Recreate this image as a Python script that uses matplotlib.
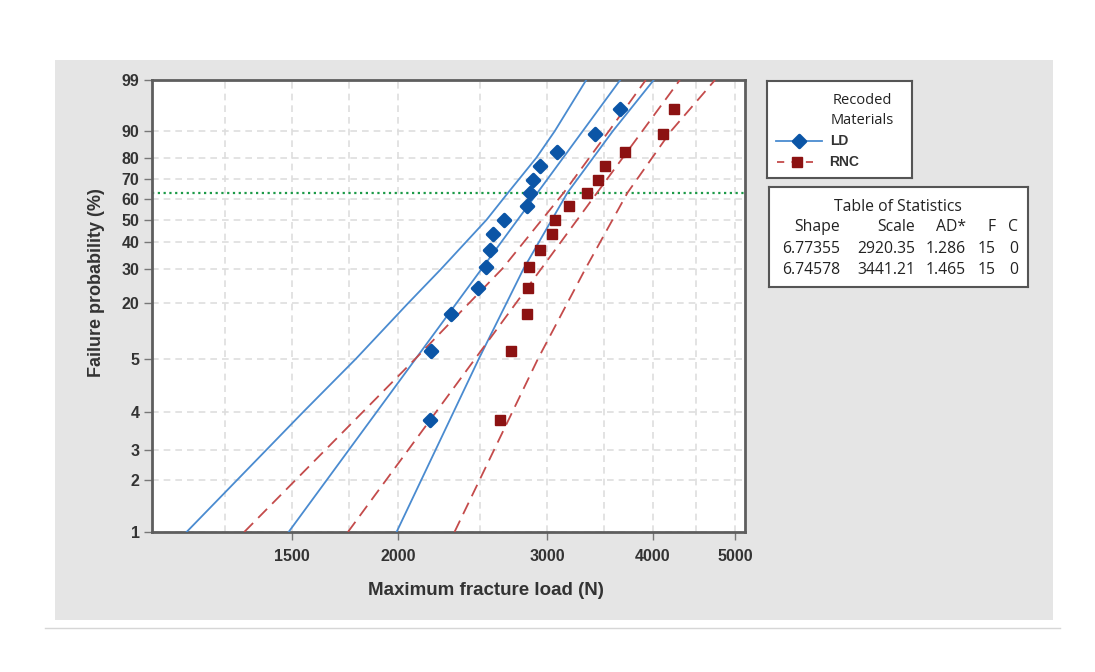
import numpy as np
import matplotlib
matplotlib.use('Agg')
import matplotlib.pyplot as plt
from matplotlib.patches import Rectangle
from matplotlib.lines import Line2D
from matplotlib.markers import MarkerStyle
from matplotlib.ticker import NullLocator

# ---- data ----
# median-rank plotting positions (%), 15 specimens per group
prob = [4.5, 11.0, 17.5, 24.0, 30.5, 37.0, 43.5, 50.0, 56.5, 63.0, 69.5, 76.0, 82.5, 89.0, 95.5]
ld_load = [2181, 2189, 2307, 2489, 2538, 2568, 2589, 2668, 2844, 2862, 2888, 2943, 3080, 3419, 3660]
rnc_load = [2637, 2717, 2844, 2852, 2856, 2943, 3044, 3063, 3184, 3342, 3444, 3513, 3705, 4115, 4241]

# fitted Weibull lines
fit_prob = [1, 99]
ld_fit = [1485, 3660]
rnc_fit = [1745, 4305]

# confidence bands
ld_lo_prob = [1, 5, 10, 20, 30, 50, 63.2, 80, 90, 99]
ld_lower = [1125, 1546, 1784, 2055, 2250, 2545, 2698, 2915, 3063, 3337]
band_prob = [1, 10, 30, 63.2, 90, 99]
ld_upper = [1992, 2492, 2814, 3171, 3587, 4010]
rnc_lower = [1316, 2097, 2656, 3139, 3549, 3924]
rnc_upper = [2332, 2927, 3330, 3734, 4202, 4737]

ref_prob = 63.2

x_ticks = [1500, 2000, 3000, 4000, 5000]
x_grid = [1250, 1500, 1750, 2000, 2500, 3000, 3500, 4000, 4500, 5000]
y_ticks = [99, 90, 80, 70, 60, 50, 40, 30, 20, 10, 5, 3, 2, 1]
y_ticklabels = ['99', '90', '80', '70', '60', '50', '40', '30', '20', '5', '4', '3', '2', '1']

shape = ['6.77355', '6.74578']
scale = ['2920.35', '3441.21']
ad = ['1.286', '1.465']
n_fail = ['15', '15']
n_cens = ['0', '0']

BLUE_M = '#0b55a6'
BLUE_L = '#4a8bd0'
RED_M = '#8c1212'
RED_L = '#c44b4b'
TXT = '#333333'


def weib_fwd(p):
    p = np.clip(np.asarray(p, dtype=float), 1e-6, 100 - 1e-6)
    return np.log(-np.log(1 - p / 100.0))


def weib_inv(y):
    return 100.0 * (1 - np.exp(-np.exp(np.asarray(y, dtype=float))))


W, H = 1095, 672
fig = plt.figure(figsize=(W / 100, H / 100), dpi=100)
fig.patch.set_facecolor('white')

# gray panel behind everything
fig.patches.append(Rectangle((55 / W, 1 - 620 / H), 998 / W, 560 / H,
                             transform=fig.transFigure, facecolor='#e5e5e5',
                             edgecolor='none', zorder=-10))
fig.lines.append(Line2D([45 / W, 1060 / W], [1 - 628 / H, 1 - 628 / H],
                        transform=fig.transFigure, color='#d6d6d6', lw=1, zorder=-10))

ax = fig.add_axes([152 / W, 1 - 532 / H, 593 / W, 452 / H])
ax.set_facecolor('white')
ax.set_xscale('log')
ax.set_yscale('function', functions=(weib_fwd, weib_inv))
ax.set_xlim(1024, 5140)
ax.set_ylim(1, 99)

# grid
for v in x_grid:
    ax.axvline(v, color='#dedede', lw=1.2, ls=(0, (4, 3)), zorder=1)
for p in y_ticks:
    ax.axhline(p, color='#dedede', lw=1.2, ls=(0, (4, 3)), zorder=1)

ax.axhline(ref_prob, color='#1c9a48', lw=1.6, ls=(0, (1, 1.6)), zorder=2)

# bands and fits
ax.plot(ld_lower, ld_lo_prob, color=BLUE_L, lw=1.3, zorder=3)
ax.plot(ld_fit, fit_prob, color=BLUE_L, lw=1.3, zorder=3)
ax.plot(ld_upper, band_prob, color=BLUE_L, lw=1.3, zorder=3)
for xs, ps in [(rnc_lower, band_prob), (rnc_fit, fit_prob), (rnc_upper, band_prob)]:
    ax.plot(xs, ps, color=RED_L, lw=1.3, dashes=(7, 4), zorder=3)

diamond = MarkerStyle('D', joinstyle='round')
ax.plot(ld_load, prob, ls='none', marker=diamond, ms=6.2, color=BLUE_M,
        mec=BLUE_M, mew=2.5, mfc=BLUE_M, zorder=5)
ax.plot(rnc_load, prob, ls='none', marker='s', ms=7.5, color=RED_M, zorder=5)

ax.set_xticks(x_ticks)
ax.set_xticklabels([str(v) for v in x_ticks])
ax.xaxis.set_minor_locator(NullLocator())
ax.set_yticks(y_ticks)
ax.set_yticklabels(y_ticklabels)
ax.yaxis.set_minor_locator(NullLocator())

for lab in ax.get_xticklabels() + ax.get_yticklabels():
    lab.set_fontfamily('Liberation Sans')
    lab.set_fontweight('bold')
    lab.set_fontsize(11.5)
    lab.set_color(TXT)
ax.tick_params(axis='both', length=6, width=1, color='#777777')
ax.tick_params(axis='y', pad=3)
ax.tick_params(axis='x', pad=6)

for s in ax.spines.values():
    s.set_color('#5e5e5e')
    s.set_linewidth(2)

ax.set_xlabel('Maximum fracture load (N)', fontsize=13.5, fontweight='bold',
              family='Liberation Sans', color=TXT)
ax.xaxis.set_label_coords(0.563, -0.11)
ax.set_ylabel('Failure probability (%)', fontsize=13, fontweight='bold',
              family='Liberation Sans', color=TXT)
ax.yaxis.set_label_coords(-0.080, 0.551)

# legend box
lg = fig.add_axes([767 / W, 1 - 178 / H, 145 / W, 97 / H])
lg.set_xlim(767, 912)
lg.set_ylim(178, 81)
lg.set_xticks([])
lg.set_yticks([])
for s in lg.spines.values():
    s.set_color('#555555')
    s.set_linewidth(1.5)
lg.text(862, 100, 'Recoded', ha='center', va='center', fontsize=10.5,
        family='Open Sans', color='#222222')
lg.text(862, 121, 'Materials', ha='center', va='center', fontsize=10.5,
        family='Open Sans', color='#222222')
lg.plot([776, 822], [141, 141], color=BLUE_L, lw=1.3)
lg.plot([799], [141], marker=diamond, ms=6, color=BLUE_M, mew=2.5)
lg.text(830, 141, 'LD', ha='left', va='center', fontsize=10,
        fontweight='bold', family='Liberation Sans', color=TXT)
lg.plot([777, 813], [162, 162], color=RED_L, lw=1.3, dashes=(4, 4))
lg.plot([797], [162], marker='s', ms=7, color=RED_M)
lg.text(829, 162, 'RNC', ha='left', va='center', fontsize=10,
        fontweight='bold', family='Liberation Sans', color=TXT)

# table of statistics
tb = fig.add_axes([769 / W, 1 - 287 / H, 259 / W, 100 / H])
tb.set_xlim(769, 1028)
tb.set_ylim(287, 187)
tb.set_xticks([])
tb.set_yticks([])
for s in tb.spines.values():
    s.set_color('#555555')
    s.set_linewidth(1.5)
tkw = dict(fontsize=11.3, family='Open Sans', color='#222222', va='center')
tb.text(898, 207, 'Table of Statistics', ha='center', **tkw)
col_x = [840, 915, 966, 996, 1018]
for cx, h in zip(col_x, ['Shape', 'Scale', 'AD*', 'F', 'C']):
    tb.text(cx, 227, h, ha='right', **tkw)
for i, row_y in enumerate([249, 270]):
    for cx, val in zip(col_x, [shape[i], scale[i], ad[i], n_fail[i], n_cens[i]]):
        tb.text(cx, row_y, val, ha='right', **tkw)

fig.savefig('out.png', dpi=100, facecolor='white')
